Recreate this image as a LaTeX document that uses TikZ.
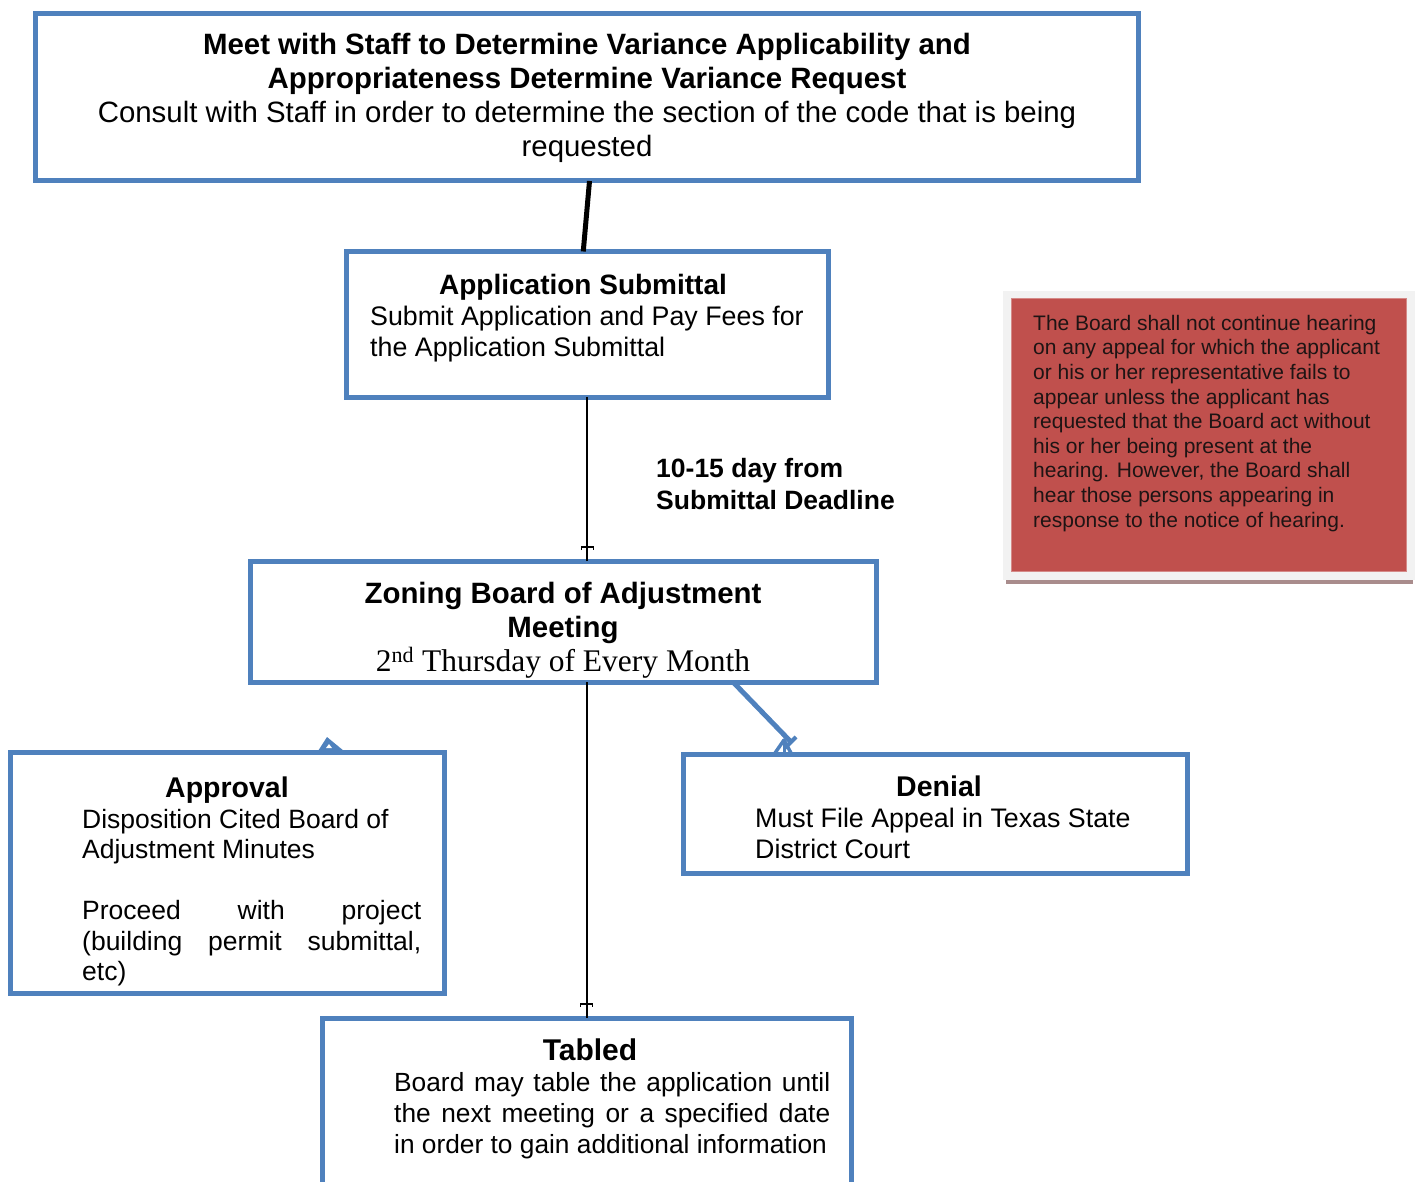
\documentclass[tikz,border=0pt]{standalone}
\usepackage{fontspec}
\setmainfont{Liberation Sans}
\newfontfamily\timesf{Liberation Serif}
\definecolor{boxblue}{HTML}{4F81BD}
\definecolor{notered}{HTML}{C0504D}
\definecolor{noteedge}{HTML}{D58A88}
\definecolor{frameg}{HTML}{F2F2F2}
\definecolor{shadowc}{HTML}{A98C8C}
\definecolor{notetext}{HTML}{1E1414}
\tikzset{
  boxnode/.style={draw=boxblue, line width=5pt, inner sep=0pt, outer sep=0pt, fill=white},
  titletxt/.style={anchor=base, inner sep=0pt, font=\bfseries\fontsize{28.5}{34}\selectfont},
  bodytxt/.style={anchor=north west, inner sep=0pt, align=left, font=\fontsize{26.8}{31}\selectfont},
  conn/.style={draw=black, line width=2pt},
  teemark/.style={draw=black, line width=1.3pt},
}
\begin{document}
\begin{tikzpicture}[x=1pt,y=-1pt]
\useasboundingbox (0,0) rectangle (1415,1182);
% boxes
\node[boxnode, minimum width=1103pt, minimum height=167pt] (top) at (586.5,97.5) {};
\node[boxnode, minimum width=481.5pt, minimum height=145.5pt] (app) at (587.25,324.25) {};
\node[boxnode, minimum width=626pt, minimum height=121pt] (zon) at (563,621.5) {};
\node[boxnode, minimum width=434pt, minimum height=241pt] (appr) at (227,872.5) {};
\node[boxnode, minimum width=504pt, minimum height=119pt] (den) at (935,813.5) {};
\node[boxnode, minimum width=528.5pt, minimum height=190pt] (tab) at (586.75,1113) {};

% texts
\node[anchor=north, inner sep=0pt, align=center, font=\fontsize{29.4}{34}\selectfont] (toptxt) at (587,30.2)
  {\strut\textbf{Meet with Staff to Determine Variance Applicability and}\\
   \textbf{Appropriateness Determine Variance Request}\\
   Consult with Staff in order to determine the section of the code that is being\\
   requested};

\node[titletxt, font=\bfseries\fontsize{28}{31}\selectfont] (apptitle) at (583,294) {Application Submittal};
\node[bodytxt] (appbody) at (370,303.3) {\strut Submit Application and Pay Fees for\\the Application Submittal};

\node[anchor=north, inner sep=0pt, align=center, font=\fontsize{29.4}{34}\selectfont] (zontxt) at (563,579.2)
  {\strut\textbf{Zoning Board of Adjustment}\\
   \textbf{Meeting}\\
   {\timesf\fontsize{31.5}{34}\selectfont 2\textsuperscript{nd} Thursday of Every Month}};

\node[titletxt] (apprtitle) at (227,797) {Approval};
\node[bodytxt, font=\fontsize{26.5}{30.5}\selectfont] (apprbody) at (82,806.6)
  {\strut Disposition Cited Board of\\
   Adjustment Minutes\\[30.5pt]
   \makebox[339pt][s]{Proceed with project}\\
   \makebox[339pt][s]{(building permit submittal,}\\
   etc)};

\node[titletxt] (dentitle) at (939,796) {Denial};
\node[bodytxt] (denbody) at (755,805.3) {\strut Must File Appeal in Texas State\\District Court};

\node[titletxt, font=\bfseries\fontsize{30}{34}\selectfont] (tabtitle) at (590,1060) {Tabled};
\node[bodytxt, font=\fontsize{26.3}{31}\selectfont] (tabbody) at (394,1069.3)
  {\strut\makebox[436pt][s]{Board may table the application until}\\
   \makebox[436pt][s]{the next meeting or a specified date}\\
   in order to gain additional information};

\node[anchor=north west, inner sep=0pt, align=left, font=\bfseries\fontsize{26.5}{32}\selectfont] (lbl) at (656,454.6)
  {\strut 10-15 day from\\Submittal Deadline};

% note box
\fill[shadowc] (1006,576) rectangle (1413,584);
\fill[frameg] (1003,291) rectangle (1415,580);
\node[draw=noteedge, line width=0.8pt, fill=notered, minimum width=395pt, minimum height=273pt, inner sep=0pt] (note) at (1208.5,434.5) {};
\node[anchor=north west, inner sep=0pt, align=left, text=notetext, font=\fontsize{21}{24.6}\selectfont] (notetxt) at (1033,312.8)
  {\strut The Board shall not continue hearing\\
   on any appeal for which the applicant\\
   or his or her representative fails to\\
   appear unless the applicant has\\
   requested that the Board act without\\
   his or her being present at the\\
   hearing. However, the Board shall\\
   hear those persons appearing in\\
   response to the notice of hearing.};

% connectors
\draw[line width=5pt] ([xshift=3pt]top.south) -- ([xshift=-4pt]app.north);
\coordinate (t1) at (app.south |- zon.north);
\draw[conn] (app.south) -- (t1);
\draw[teemark] ([xshift=-6pt,yshift=11pt]t1) -- ([xshift=-6pt,yshift=14pt]t1) -- ([xshift=6pt,yshift=14pt]t1) -- ([xshift=6pt,yshift=11pt]t1);
\coordinate (t2) at (tab.north |- zon.south);
\draw[conn] (t2) -- (tab.north);
\draw[teemark] ([xshift=-6pt,yshift=11pt]tab.north) -- ([xshift=-6pt,yshift=14pt]tab.north) -- ([xshift=6pt,yshift=14pt]tab.north) -- ([xshift=6pt,yshift=11pt]tab.north);

% approval arrow tip
\fill[boxblue] ([xshift=100pt,yshift=15pt]appr.north) -- ([xshift=91pt,yshift=1pt]appr.north) -- ([xshift=117pt,yshift=1pt]appr.north) -- cycle;
\fill[white] ([xshift=102pt,yshift=8pt]appr.north) -- ([xshift=99pt,yshift=4pt]appr.north) -- ([xshift=105pt,yshift=4pt]appr.north) -- cycle;

% denial connector
\coordinate (dend) at ([xshift=-144pt,yshift=12pt]den.north);
\draw[boxblue, line width=5pt] ([xshift=170pt]zon.south) -- (dend);
\draw[boxblue, line width=4pt] ([xshift=-150pt,yshift=6pt]den.north) -- ([xshift=-139pt,yshift=17pt]den.north);
\draw[boxblue, line width=3.5pt, line join=round] ([xshift=-160pt,yshift=1pt]den.north) -- ([xshift=-151pt,yshift=14pt]den.north) -- ([xshift=-144pt,yshift=1pt]den.north);
\draw[boxblue, line width=3pt] ([xshift=-151pt,yshift=14pt]den.north) -- ([xshift=-151pt,yshift=-2pt]den.north);
\end{tikzpicture}
\end{document}
